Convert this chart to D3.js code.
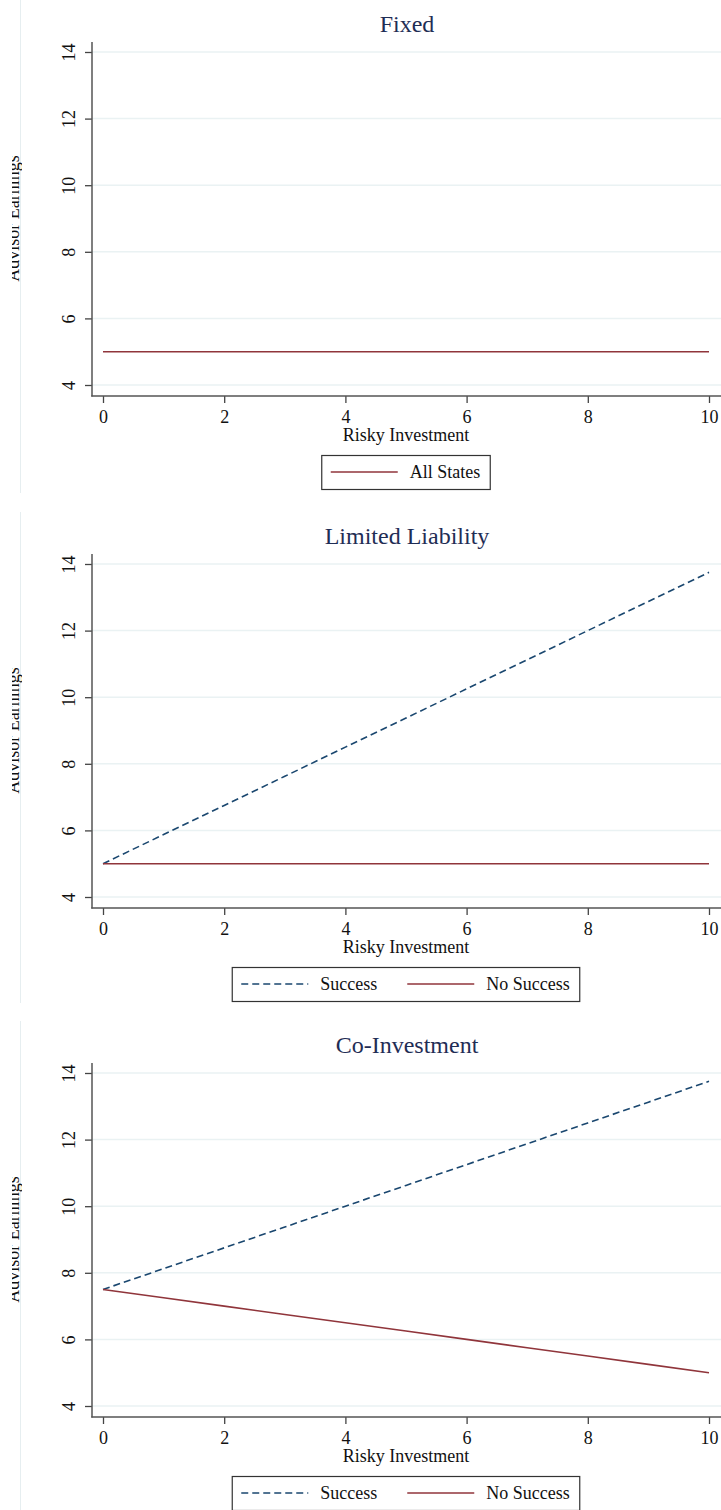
<!DOCTYPE html>
<html><head><meta charset="utf-8">
<script src="https://cdn.jsdelivr.net/npm/d3@7"></script>
<style>body{margin:0;background:#fff}svg{display:block}svg text{font-family:"Liberation Serif","Times New Roman",serif !important}</style>
</head><body>
<script>
const xValues = [0,1,2,3,4,5,6,7,8,9,10];
const xTicks = [0,2,4,6,8,10];
const yTicks = [4,6,8,10,12,14];
const panelTitles = ["Fixed","Limited Liability","Co-Investment"];
const yLabel = "Advisor Earnings";
const xLabel = "Risky Investment";
const fixedAllStates = [5,5,5,5,5,5,5,5,5,5,5];
const limitedSuccess = [5,5.875,6.75,7.625,8.5,9.375,10.25,11.125,12,12.875,13.75];
const limitedNoSuccess = [5,5,5,5,5,5,5,5,5,5,5];
const coinvSuccess = [7.5,8.125,8.75,9.375,10,10.625,11.25,11.875,12.5,13.125,13.75];
const coinvNoSuccess = [7.5,7.25,7,6.75,6.5,6.25,6,5.75,5.5,5.25,5];

const NAVY = "#1a476f", MAROON = "#90353b";
const panels = [
  {title: panelTitles[0], off: 0, bottom: 493, series: [{name:"All States", values: fixedAllStates, color: MAROON, dash: null}]},
  {title: panelTitles[1], off: 512, bottom: 1003, series: [
    {name:"Success", values: limitedSuccess, color: NAVY, dash: "7,4"},
    {name:"No Success", values: limitedNoSuccess, color: MAROON, dash: null}]},
  {title: panelTitles[2], off: 1021, bottom: 1510, series: [
    {name:"Success", values: coinvSuccess, color: NAVY, dash: "7,4"},
    {name:"No Success", values: coinvNoSuccess, color: MAROON, dash: null}]}
];

const W = 721, H = 1510;
const svg = d3.select("body").append("svg").attr("width", W).attr("height", H);
const x = d3.scaleLinear().domain([0,10]).range([103,709]);

panels.forEach((p, pi) => {
  const g = svg.append("g").attr("transform", `translate(0,${p.off})`);
  const y = d3.scaleLinear().domain([4,14]).range([385,52]);
  // faint panel border
  g.append("line").attr("x1",20.5).attr("x2",20.5).attr("y1", 0).attr("y2", p.bottom - p.off)
    .attr("stroke","#e6eef0").attr("stroke-width",1);
  // gridlines
  g.selectAll(".grid").data(yTicks).join("line")
    .attr("x1",92).attr("x2",721).attr("y1",d=>y(d)).attr("y2",d=>y(d))
    .attr("stroke","#eaf2f3").attr("stroke-width",1.5);
  // y axis
  const yAxis = g.append("g").attr("transform","translate(92,0)")
    .call(d3.axisLeft(y).tickValues(yTicks).tickSize(7).tickPadding(0).tickFormat(d3.format("d")));
  yAxis.attr("font-family", null);
  yAxis.select(".domain").remove();
  yAxis.selectAll(".tick line").attr("stroke","#444").attr("stroke-width",1.3);
  yAxis.selectAll(".tick text").attr("transform","translate(-17,0) rotate(-90)")
    .attr("x",0).attr("y",0).attr("dy",0).attr("text-anchor","middle")
    .style("font-size","18px").attr("fill","#111");
  g.append("line").attr("x1",92).attr("x2",92).attr("y1",42).attr("y2",396.5)
    .attr("stroke","#555").attr("stroke-width",1.5);
  // x axis
  const xAxis = g.append("g").attr("transform","translate(0,396)")
    .call(d3.axisBottom(x).tickValues(xTicks).tickSize(7).tickPadding(5).tickFormat(d3.format("d")));
  xAxis.attr("font-family", null);
  xAxis.select(".domain").remove();
  xAxis.selectAll(".tick line").attr("stroke","#444").attr("stroke-width",1.3);
  xAxis.selectAll(".tick text").attr("y",27).attr("dy",0).style("font-size","18px").attr("fill","#111");
  g.append("line").attr("x1",91.25).attr("x2",721).attr("y1",396).attr("y2",396)
    .attr("stroke","#555").attr("stroke-width",1.5);
  // title
  g.append("text").attr("x",407).attr("y",32).attr("text-anchor","middle")
    .style("font-size","24px").attr("fill","#1f2d55").text(p.title);
  // x label
  g.append("text").attr("x",406).attr("y",441).attr("text-anchor","middle")
    .style("font-size","18px").attr("fill","#111").text(xLabel);
  // y label (clipped at left as in reference)
  const cid = "clipY"+pi;
  g.append("clipPath").attr("id",cid).append("rect").attr("x",12).attr("y",0).attr("width",10).attr("height",480);
  g.append("g").attr("clip-path",`url(#${cid})`)
    .append("text")
    .attr("transform","translate(19,218.5) rotate(-90)").attr("text-anchor","middle")
    .style("font-size","18px").attr("fill","#111").text(yLabel);
  // series lines
  const line = d3.line().x((d,i)=>x(xValues[i])).y(d=>y(d));
  p.series.forEach(s => {
    g.append("path").datum(s.values).attr("d",line).attr("fill","none")
      .attr("stroke",s.color).attr("stroke-width",1.6)
      .attr("stroke-dasharray", s.dash);
  });
  // legend
  const lg = g.append("g");
  const items = p.series;
  const lineLen = 67, gapLT = 12, itemGap = 30, padL = 9, padR = 10;
  const tmp = items.map(s => {
    const t = lg.append("text").style("font-size","18px").text(s.name);
    const w = t.node().getComputedTextLength(); t.remove(); return w;
  });
  let total = padL + padR;
  items.forEach((s,i)=>{ total += lineLen + gapLT + tmp[i] + (i<items.length-1?itemGap:0); });
  const bx = 406 - total/2;
  lg.append("rect").attr("x",bx).attr("y",455.5).attr("width",total).attr("height",34)
    .attr("fill","#fff").attr("stroke","#333").attr("stroke-width",1.2);
  let cx = bx + padL;
  items.forEach((s,i)=>{
    lg.append("line").attr("x1",cx).attr("x2",cx+lineLen).attr("y1",472).attr("y2",472)
      .attr("stroke",s.color).attr("stroke-width",1.6).attr("stroke-dasharray",s.dash);
    cx += lineLen + gapLT;
    lg.append("text").attr("x",cx).attr("y",478).style("font-size","18px").attr("fill","#111").text(s.name);
    cx += tmp[i] + itemGap;
  });
});
</script>
</body></html>
